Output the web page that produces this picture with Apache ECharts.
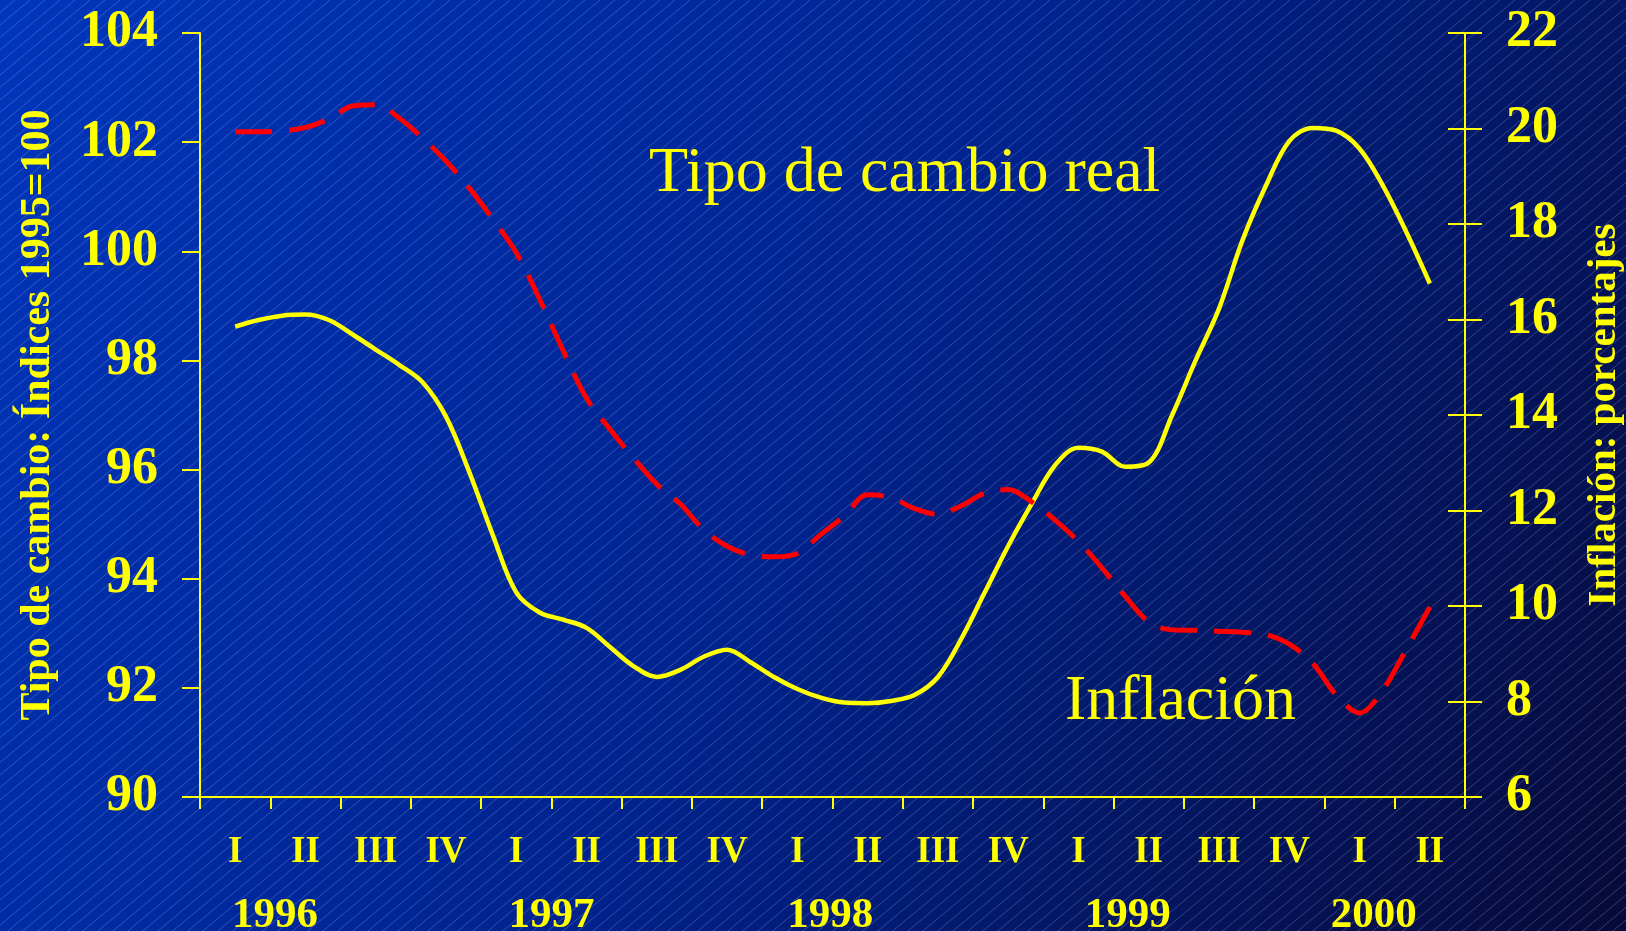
<!DOCTYPE html>
<html><head><meta charset="utf-8">
<script src="https://cdn.jsdelivr.net/npm/echarts@6/dist/echarts.min.js"></script>
<style>html,body{margin:0;padding:0;background:#001a80;overflow:hidden}#c{width:1626px;height:931px}</style>
</head><body><div id="c"></div>
<script>
// ---------------- DATA ----------------
const meses = ['feb-96','mar-96','abr-96','may-96','jun-96','jul-96','ago-96','sep-96','oct-96','nov-96','dic-96',
  'ene-97','feb-97','mar-97','abr-97','may-97','jun-97','jul-97','ago-97','sep-97','oct-97','nov-97','dic-97',
  'ene-98','feb-98','mar-98','abr-98','may-98','jun-98','jul-98','ago-98','sep-98','oct-98','nov-98','dic-98',
  'ene-99','feb-99','mar-99','abr-99','may-99','jun-99','jul-99','ago-99','sep-99','oct-99','nov-99','dic-99',
  'ene-00','feb-00','mar-00','abr-00','may-00'];
const trimestres = ['I','II','III','IV','I','II','III','IV','I','II','III','IV','I','II','III','IV','I','II'];
const anios = ['1996','1997','1998','1999','2000'];
const tipoCambioReal = [98.62, 98.74, 98.82, 98.84, 98.74, 98.48, 98.20, 97.92, 97.60, 96.97,
  95.95, 94.80, 93.75, 93.38, 93.25, 93.10, 92.75, 92.40, 92.20, 92.33,
  92.57, 92.70, 92.47, 92.20, 91.98, 91.82, 91.73, 91.72, 91.76, 91.87,
  92.20, 92.90, 93.75, 94.60, 95.37, 96.08, 96.40, 96.33, 96.05, 96.13,
  97.00, 98.00, 98.95, 100.20, 101.20, 102.02, 102.26, 102.21, 101.88, 101.20,
  100.35, 99.41];
const inflacion = [19.93, 19.93, 19.95, 20.02, 20.20, 20.47, 20.50, 20.22, 19.80, 19.32,
  18.75, 18.10, 17.40, 16.42, 15.35, 14.35, 13.70, 13.10, 12.55, 12.14,
  11.60, 11.25, 11.07, 11.03, 11.10, 11.50, 11.88, 12.33, 12.27, 12.04,
  11.92, 12.10, 12.36, 12.44, 12.18, 11.80, 11.35, 10.80, 10.20, 9.67,
  9.50, 9.49, 9.47, 9.45, 9.40, 9.20, 8.80, 8.14, 7.76, 8.25,
  9.10, 9.98];
const ejeIzq = {min: 90, max: 104, step: 2};
const ejeDer = {min: 6, max: 22, step: 2};

// ---------------- LAYOUT / STYLE ----------------
const FONT = "'Liberation Serif','Times New Roman',Times,serif";
const YEL = '#ffff00';
const RED = '#ff0000';
const firstMonthOffset = 1;        // Feb-1996 is month index 1 counted from Jan-1996
const totalMonths = 54;            // Jan-1996 .. Jun-2000
const yearPos = [3.2, 15.0, 26.9, 39.6, 50.1]; // label centres, in month units

const tile = document.createElement('canvas');
tile.width = 150; tile.height = 125;
const tc = tile.getContext('2d');
tc.strokeStyle = 'rgba(185,195,255,0.27)';
tc.lineWidth = 1;
for (let k = -10; k <= 10; k++) { tc.beginPath(); tc.moveTo(k*15, 125); tc.lineTo(k*15 + 150, 0); tc.stroke(); }

const chart = echarts.init(document.getElementById('c'), null, {renderer: 'canvas', width: 1626, height: 931});

const toXY = arr => arr.map((v, i) => [i + firstMonthOffset + 0.5, v]);

const option = {
  animation: false,
  backgroundColor: {type: 'linear', x: 0, y: 0, x2: 1, y2: 1, colorStops: [
    {offset: 0, color: '#0036bc'}, {offset: 0.5, color: '#00238e'}, {offset: 1, color: '#070a38'}]},
  grid: {left: 200, right: 161, top: 33, bottom: 134, containLabel: false, outerBoundsMode: 'none'},
  xAxis: [
    {type: 'value', min: 0, max: totalMonths, interval: 3, position: 'bottom',
     axisLine: {show: true, onZero: false, lineStyle: {color: YEL, width: 2}},
     axisTick: {show: true, length: 12, lineStyle: {color: YEL, width: 2}},
     axisLabel: {show: false}, splitLine: {show: false}},
    {type: 'category', data: trimestres, position: 'bottom', boundaryGap: true,
     axisLine: {show: false}, axisTick: {show: false}, splitLine: {show: false},
     axisLabel: {show: true, interval: 0, color: YEL, fontFamily: FONT, fontWeight: 'bold', fontSize: 37, margin: 37}}
  ],
  yAxis: [
    {type: 'value', position: 'left', min: ejeIzq.min, max: ejeIzq.max, interval: ejeIzq.step,
     name: 'Tipo de cambio: Índices 1995=100', nameLocation: 'middle', nameRotate: 90, nameGap: 141,
     nameTextStyle: {color: YEL, fontFamily: FONT, fontWeight: 'bold', fontSize: 42},
     axisLine: {show: true, lineStyle: {color: YEL, width: 2}},
     axisTick: {show: true, length: 18, lineStyle: {color: YEL, width: 2}},
     axisLabel: {color: YEL, fontFamily: FONT, fontWeight: 'bold', fontSize: 52, margin: 42},
     splitLine: {show: false}},
    {type: 'value', position: 'right', min: ejeDer.min, max: ejeDer.max, interval: ejeDer.step,
     name: 'Inflación: porcentajes', nameLocation: 'middle', nameRotate: 90, nameGap: 119,
     nameTextStyle: {color: YEL, fontFamily: FONT, fontWeight: 'bold', fontSize: 41},
     axisLine: {show: true, lineStyle: {color: YEL, width: 2}},
     axisTick: {show: true, length: 17, lineStyle: {color: YEL, width: 2}},
     axisLabel: {color: YEL, fontFamily: FONT, fontWeight: 'bold', fontSize: 52, margin: 41},
     splitLine: {show: false}},
    {type: 'value', position: 'right', min: ejeDer.min, max: ejeDer.max, interval: ejeDer.step,
     axisLine: {show: false}, axisLabel: {show: false}, splitLine: {show: false},
     axisTick: {show: true, inside: true, length: 17, lineStyle: {color: YEL, width: 2}}}
  ],
  series: [
    {name: 'Tipo de cambio real', type: 'line', xAxisIndex: 0, yAxisIndex: 0, data: toXY(tipoCambioReal),
     showSymbol: false, symbol: 'none', smooth: 0.35, z: 3,
     lineStyle: {color: YEL, width: 4.5}},
    {name: 'Inflación', type: 'line', xAxisIndex: 0, yAxisIndex: 1, data: toXY(inflacion),
     showSymbol: false, symbol: 'none', smooth: 0.35, z: 4,
     lineStyle: {color: RED, width: 5, type: [37, 17], cap: 'butt'}}
  ]
};
chart.setOption(option);

const graphics = [
  {type: 'rect', silent: true, z: -10, shape: {x: 0, y: 0, width: 1626, height: 931},
   style: {fill: {image: tile, repeat: 'repeat'}}},
  {type: 'text', silent: true, z: 10, x: 649, y: 174,
   style: {text: 'Tipo de cambio real', fill: YEL, font: '64px ' + FONT, align: 'left', verticalAlign: 'middle', textAlign: 'left', textVerticalAlign: 'middle'}},
  {type: 'text', silent: true, z: 10, x: 1065, y: 702,
   style: {text: 'Inflación', fill: YEL, font: '64px ' + FONT, align: 'left', verticalAlign: 'middle', textAlign: 'left', textVerticalAlign: 'middle'}}
];
anios.forEach((a, i) => {
  const px = chart.convertToPixel({xAxisIndex: 0}, yearPos[i]);
  graphics.push({type: 'text', silent: true, z: 10, x: px, y: 916,
    style: {text: a, fill: YEL, font: 'bold 43px ' + FONT, align: 'center', verticalAlign: 'middle', textAlign: 'center', textVerticalAlign: 'middle'}});
});
chart.setOption({graphic: graphics});
</script></body></html>
